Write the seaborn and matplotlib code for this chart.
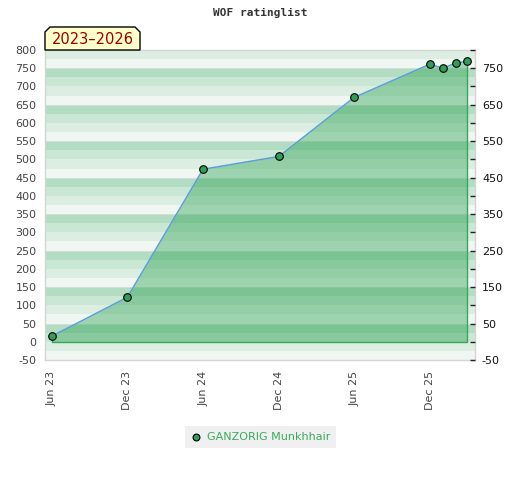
import matplotlib
matplotlib.use("Agg")
import matplotlib.pyplot as plt
import matplotlib.dates as mdates
from matplotlib.patches import Polygon
import seaborn as sns
import pandas as pd

# ---- data ----
dates = ["2023-06-01", "2023-12-01", "2024-06-01", "2024-12-01", "2025-06-01",
         "2025-12-01", "2026-01-01", "2026-02-01", "2026-03-01"]
ratings = [15, 122, 473, 508, 670, 761, 750, 764, 769]
player = "GANZORIG Munkhhair"
title = "WOF ratinglist"
period = "2023–2026"
tick_dates = ["2023-06-01", "2023-12-01", "2024-06-01", "2024-12-01", "2025-06-01", "2025-12-01"]
left_ticks = list(range(-50, 801, 50))
right_labels = list(range(-50, 751, 100))

df = pd.DataFrame({"date": pd.to_datetime(dates), "rating": ratings})

sns.set_theme(style="white")
plt.rcParams['font.family'] = ['DejaVu Sans']
plt.rcParams['axes.unicode_minus'] = False

W, H = 520, 480
fig = plt.figure(figsize=(W / 100, H / 100), dpi=100)
ax = fig.add_axes([45 / W, 1 - 360 / H, 430 / W, 310 / H])

# striped background
band_colors = ['#f0f7f2', '#dceee2', '#c9e7d4', '#b2ddc2']
for i, lo in enumerate(range(-50, 800, 25)):
    ax.axhspan(lo, lo + 25, color=band_colors[i % 4], lw=0, zorder=0)
for y in range(-50, 801, 100):
    ax.axhline(y, color='#d6ded8', lw=0.7, zorder=0.5)

# filled area
ax.fill_between(df["date"], df["rating"], 0, facecolor='#2ea354', alpha=0.42,
                lw=0, zorder=1)
ax.plot([df["date"].iloc[0], df["date"].iloc[0], df["date"].iloc[-1], df["date"].iloc[-1]],
        [df["rating"].iloc[0], 0, 0, df["rating"].iloc[-1]], color='#36a85a', lw=1.0, zorder=2)

sns.lineplot(data=df, x="date", y="rating", color='#5b9fd8', lw=1.1, ax=ax, zorder=3)
sns.scatterplot(data=df, x="date", y="rating", color='#2f9e58', edgecolor='black',
                linewidth=0.8, s=30, ax=ax, zorder=4, label=player)

ax.set_xlim(pd.Timestamp("2023-05-16"), pd.Timestamp("2026-03-20"))
ax.set_ylim(-50, 800)
ax.set_xlabel("")
ax.set_ylabel("")

ax.set_xticks(pd.to_datetime(tick_dates))
ax.xaxis.set_major_formatter(mdates.DateFormatter("%b %y"))
ax.tick_params(axis='x', rotation=90, labelsize=8, labelcolor='#444444', length=0, pad=8)
ax.set_yticks(left_ticks)
ax.tick_params(axis='y', labelsize=8, labelcolor='#444444', length=0, pad=6)

for s in ax.spines.values():
    s.set_color('#d4d4d4')
    s.set_linewidth(1)

ax2 = ax.twinx()
ax2.set_ylim(-50, 800)
ax2.set_yticks(left_ticks)
ax2.set_yticklabels([str(v) if v in right_labels else "" for v in left_ticks])
ax2.tick_params(axis='y', direction='in', length=3.5, width=1, color='#222222',
                labelsize=8, labelcolor='#111111', pad=5)
for s in ax2.spines.values():
    s.set_visible(False)

# title
fig.text(260.5 / W, 1 - 13 / H, title, ha='center', va='center', fontsize=8,
         fontweight='bold', family='DejaVu Sans Mono', color='#333333')

# period label box with chamfered top corners
x0, x1 = 45 / W, 140 / W
yb, yt = 1 - 50 / H, 1 - 27 / H
cx, cy = 5 / W, 5 / H
poly = Polygon([(x0, yb), (x0, yt - cy), (x0 + cx, yt), (x1 - cx, yt), (x1, yt - cy), (x1, yb)],
               closed=True, transform=fig.transFigure, facecolor='#ffffcc',
               edgecolor='black', lw=1, zorder=10)
fig.add_artist(poly)
fig.text((x0 + x1) / 2, 1 - 39 / H, period, ha='center', va='center', fontsize=10.5,
         color='#990000', zorder=11)

# legend
leg = ax.legend(loc='center', bbox_to_anchor=(260.5 / W, 1 - 437 / H),
                bbox_transform=fig.transFigure, frameon=True, fancybox=False,
                facecolor='#f0f0f0', edgecolor='none', framealpha=1, fontsize=8,
                handlelength=1.0, handletextpad=0.5, borderpad=0.5, borderaxespad=0,
                markerscale=0.9)
for t in leg.get_texts():
    t.set_color('#3aaa5e')

fig.savefig("out.png", dpi=100)
